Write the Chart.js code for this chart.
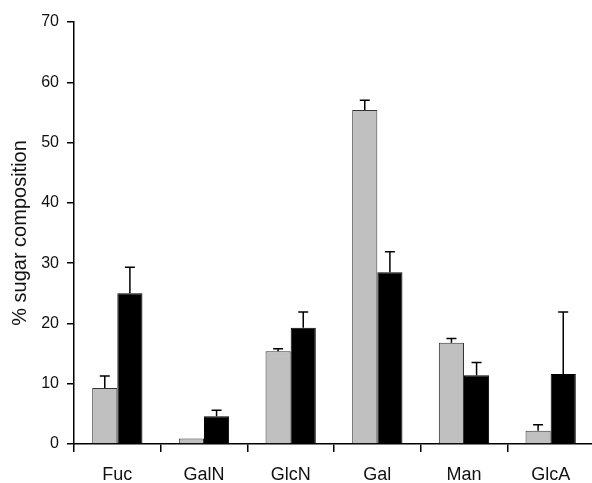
<!DOCTYPE html>
<html lang="en">
<head>
    <meta charset="UTF-8">
    <title>% sugar composition</title>
    <script src="https://cdn.jsdelivr.net/npm/chart.js"></script>
    <style>
        html, body { margin: 0; padding: 0; background: #fff; overflow: hidden; }
        #wrap { width: 600px; height: 483px; }
    </style>
</head>
<body>
    <div id="wrap"><canvas id="chart" width="600" height="483"></canvas></div>
    <script>
        // data
        const categories = ['Fuc', 'GalN', 'GlcN', 'Gal', 'Man', 'GlcA'];
        const greyValues = [9.3, 0.9, 15.4, 55.4, 16.8, 2.2];
        const greyErrors = [2.0, 0, 0.4, 1.6, 0.7, 1.0];
        const blackValues = [25.0, 4.6, 19.3, 28.5, 11.4, 11.6];
        const blackErrors = [4.3, 1.0, 2.6, 3.4, 2.1, 10.3];
        const yMin = 0, yMax = 70, yStep = 10;

        const font = '"Liberation Sans", Arial, sans-serif';
        const errs = [greyErrors, blackErrors];

        // upward error bars with a small cap
        const errorBars = {
            id: 'errorBars',
            afterDatasetsDraw(chart) {
                const ctx = chart.ctx;
                const y = chart.scales.y;
                ctx.save();
                ctx.strokeStyle = '#000';
                ctx.lineWidth = 1.5;
                chart.data.datasets.forEach((ds, i) => {
                    chart.getDatasetMeta(i).data.forEach((bar, j) => {
                        const e = errs[i][j];
                        if (!e) return;
                        const top = y.getPixelForValue(ds.data[j] + e);
                        ctx.beginPath();
                        ctx.moveTo(bar.x, bar.y);
                        ctx.lineTo(bar.x, top);
                        ctx.moveTo(bar.x - 5, top);
                        ctx.lineTo(bar.x + 5, top);
                        ctx.stroke();
                    });
                });
                ctx.restore();
            }
        };

        new Chart(document.getElementById('chart'), {
            type: 'bar',
            data: {
                labels: categories,
                datasets: [{
                    data: greyValues,
                    backgroundColor: '#c0c0c0',
                    borderColor: '#333',
                    borderWidth: 1
                }, {
                    data: blackValues,
                    backgroundColor: '#000',
                    borderColor: '#000',
                    borderWidth: 1
                }]
            },
            options: {
                responsive: false,
                animation: false,
                devicePixelRatio: 1,
                categoryPercentage: 0.58,
                barPercentage: 1,
                layout: { padding: { top: 22, right: 6, left: 0, bottom: 0 } },
                plugins: {
                    legend: { display: false },
                    tooltip: { enabled: false }
                },
                scales: {
                    x: {
                        afterFit(s) { s.height = 39; },
                        grid: { drawOnChartArea: false, tickLength: 8, color: '#000', lineWidth: 1.5 },
                        border: { color: '#000', width: 1.5 },
                        ticks: { color: '#111', padding: 12, font: { family: font, size: 18 } }
                    },
                    y: {
                        min: yMin,
                        max: yMax,
                        afterFit(s) { s.width = 74; },
                        grid: { drawOnChartArea: false, tickLength: 7, color: '#000', lineWidth: 1.5 },
                        border: { color: '#000', width: 1.5 },
                        ticks: { stepSize: yStep, color: '#111', padding: 8, font: { family: font, size: 16 } },
                        title: {
                            display: true,
                            text: '% sugar composition',
                            color: '#111',
                            padding: { top: 8, bottom: 0 },
                            font: { family: font, size: 20 }
                        }
                    }
                }
            },
            plugins: [errorBars]
        });
    </script>
</body>
</html>
